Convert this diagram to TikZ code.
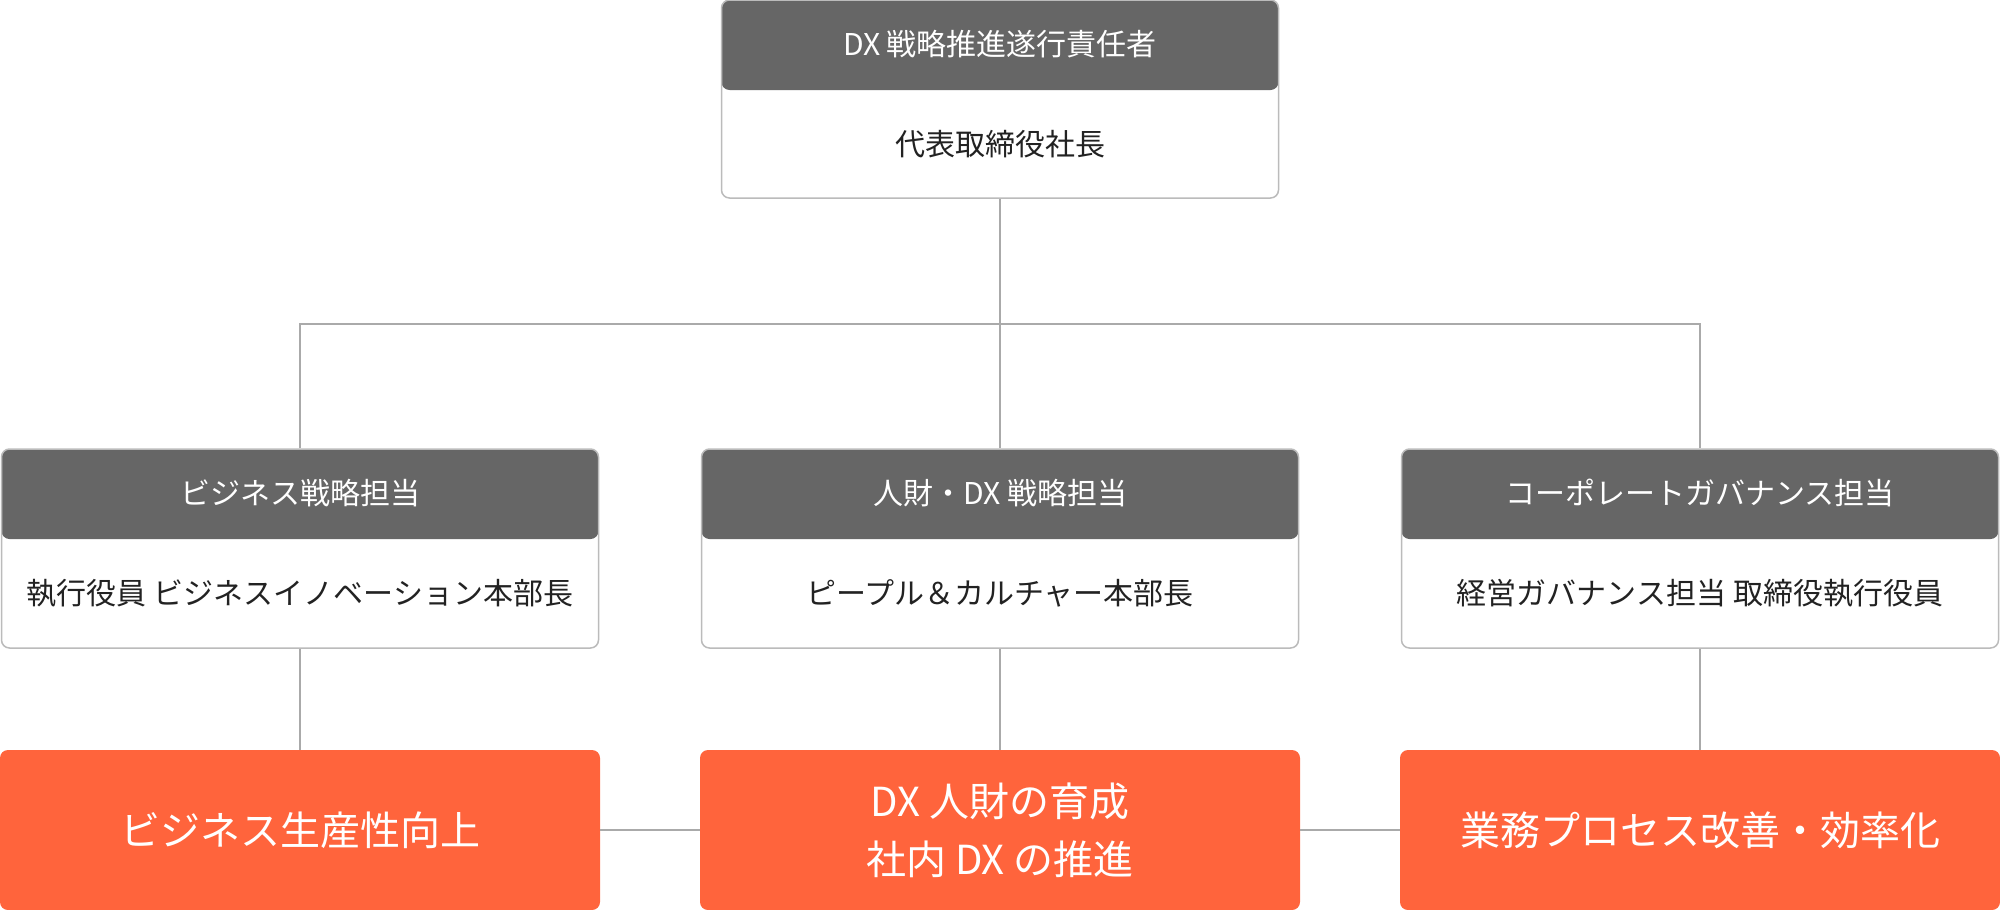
\documentclass[tikz,border=0pt]{standalone}
\usepackage{fontspec}
\setmainfont{Noto Sans CJK JP}
\usetikzlibrary{positioning}
\definecolor{hdgray}{HTML}{666666}
\definecolor{framegray}{HTML}{BBBBBB}
\definecolor{linegray}{HTML}{AAAAAA}
\definecolor{goalorange}{HTML}{FF643C}
\definecolor{inkgray}{HTML}{222222}

\begin{document}
\begin{tikzpicture}[x=1pt,y=-1pt,
  card/.style={draw=framegray, line width=1.5pt, fill=white, rounded corners=8pt, inner sep=0pt,
    path picture={\fill[hdgray] (path picture bounding box.north west) rectangle ([yshift=-90pt]path picture bounding box.north east);}},
  hdtext/.style={text=white, font=\fontsize{30}{36}\selectfont, minimum height=90pt, inner sep=0pt},
  bdtext/.style={text=inkgray, font=\fontsize{30}{36}\selectfont, inner sep=0pt},
  goal/.style={fill=goalorange, text=white, rounded corners=8pt, minimum width=600pt, minimum height=160pt,
    inner sep=0pt, align=center, font=\fontsize{40}{58}\selectfont},
  link/.style={draw=linegray, line width=1.5pt}]
\useasboundingbox (0,0) rectangle (2000,910);

% top: responsible person
\node[card, minimum width=557pt, minimum height=198pt] (top) at (1000,99) {};
\node[hdtext, below=0pt of top.north] (topH) {DX 戦略推進遂行責任者};
\node[bdtext, below=0pt of topH, minimum height=108pt] (topB) {代表取締役社長};

% middle row: the three leads
\node[card, minimum width=597pt, minimum height=199pt] (biz) at (300,548.5) {};
\node[hdtext, below=0pt of biz.north] (bizH) {ビジネス戦略担当};
\node[bdtext, below=0pt of bizH, minimum height=109pt] (bizB) {執行役員 ビジネスイノベーション本部長};

\node[card, minimum width=597pt, minimum height=199pt] (hr) at (1000,548.5) {};
\node[hdtext, below=0pt of hr.north] (hrH) {人財・DX 戦略担当};
\node[bdtext, below=0pt of hrH, minimum height=109pt] (hrB) {ピープル＆カルチャー本部長};

\node[card, minimum width=597pt, minimum height=199pt] (gov) at (1700,548.5) {};
\node[hdtext, below=0pt of gov.north] (govH) {コーポレートガバナンス担当};
\node[bdtext, below=0pt of govH, minimum height=109pt] (govB) {経営ガバナンス担当 取締役執行役員};

% bottom row: goals
\node[goal] (gBiz) at (300,830) {ビジネス生産性向上};
\node[goal] (gHr) at (1000,830) {DX 人財の育成\\社内 DX の推進};
\node[goal] (gGov) at (1700,830) {業務プロセス改善・効率化};

% connectors
\coordinate (split) at (1000,324);
\draw[link] (top.south) -- (hr.north);
\draw[link] (biz.north) |- (split) -| (gov.north);
\draw[link] (biz.south) -- (gBiz.north);
\draw[link] (hr.south) -- (gHr.north);
\draw[link] (gov.south) -- (gGov.north);
\draw[link] (gBiz.east) -- (gHr.west);
\draw[link] (gHr.east) -- (gGov.west);
\end{tikzpicture}
\end{document}
